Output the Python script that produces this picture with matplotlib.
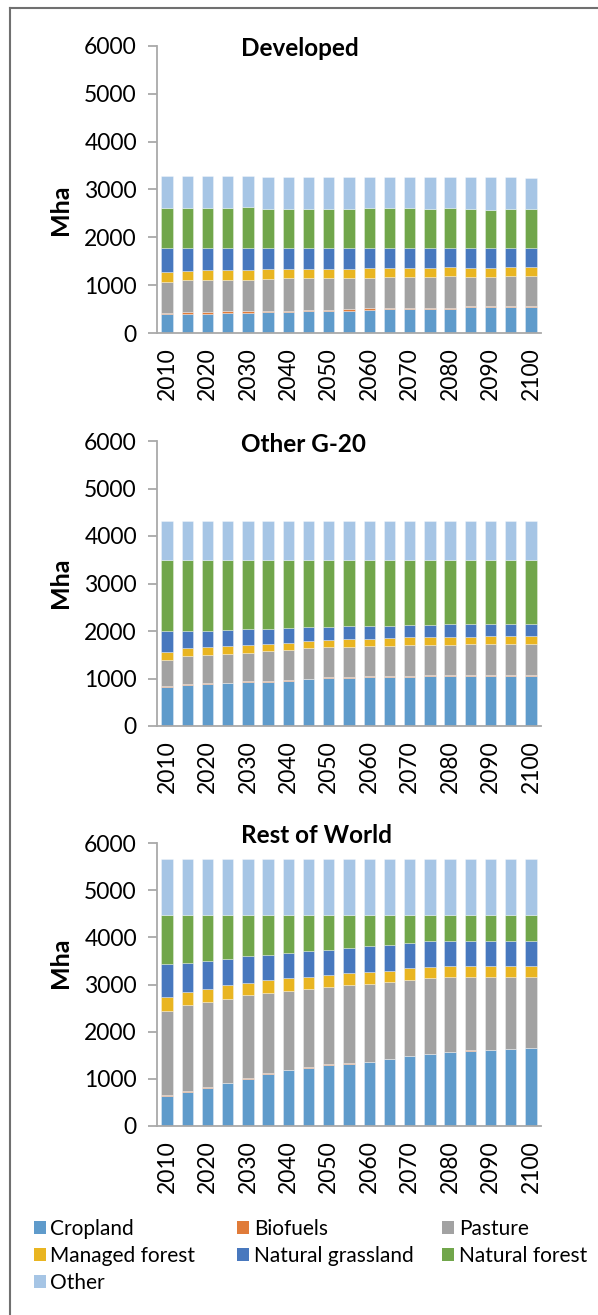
import matplotlib.pyplot as plt
from matplotlib.lines import Line2D
from matplotlib.patches import Patch
import numpy as np

plt.rcParams['font.family'] = ['Lato', 'DejaVu Sans']

# categories
years = [2010, 2015, 2020, 2025, 2030, 2035, 2040, 2045, 2050, 2055,
         2060, 2065, 2070, 2075, 2080, 2085, 2090, 2095, 2100]
series_names = ['Cropland', 'Biofuels', 'Pasture', 'Managed forest',
                'Natural grassland', 'Natural forest', 'Other']
colors = ['#5F9BCB', '#E07B39', '#A2A2A2', '#E9B521', '#4878BE', '#71A64B', '#A6C5E5']

# Developed (Mha)
developed_cropland = [395, 395, 395, 410, 410, 430, 430, 450, 450, 465, 480, 495, 505, 505, 505, 535, 535, 535, 550]
developed_biofuels = [20, 35, 35, 40, 40, 30, 40, 35, 35, 30, 35, 30, 20, 25, 25, 20, 20, 20, 15]
developed_pasture = [655, 680, 685, 665, 665, 670, 680, 665, 665, 655, 645, 650, 655, 650, 665, 625, 625, 645, 635]
developed_managed = [210, 195, 195, 195, 210, 200, 185, 185, 185, 185, 195, 185, 180, 185, 175, 180, 180, 180, 175]
developed_grassland = [505, 480, 470, 470, 460, 450, 445, 440, 440, 440, 430, 425, 425, 415, 415, 415, 415, 405, 405]
developed_natforest = [820, 820, 840, 840, 840, 820, 820, 810, 810, 810, 820, 820, 820, 820, 820, 810, 805, 805, 805]
developed_other = [675, 680, 665, 665, 665, 665, 665, 680, 680, 675, 665, 665, 665, 665, 665, 675, 680, 680, 665]

# Other G-20 (Mha)
g20_cropland = [820, 865, 890, 900, 930, 930, 955, 980, 1015, 1015, 1035, 1035, 1035, 1055, 1055, 1055, 1055, 1055, 1055]
g20_biofuels = [15, 15, 15, 15, 15, 15, 15, 15, 15, 15, 15, 15, 15, 15, 15, 15, 15, 15, 15]
g20_pasture = [545, 600, 595, 605, 595, 625, 635, 640, 625, 630, 625, 640, 645, 640, 640, 650, 650, 650, 660]
g20_managed = [175, 160, 160, 160, 170, 160, 150, 155, 155, 170, 155, 160, 170, 155, 170, 160, 175, 175, 175]
g20_grassland = [435, 350, 345, 335, 325, 315, 305, 290, 280, 270, 280, 260, 260, 260, 260, 260, 245, 245, 245]
g20_natforest = [1510, 1510, 1495, 1480, 1465, 1450, 1445, 1425, 1410, 1400, 1390, 1390, 1375, 1375, 1360, 1360, 1360, 1360, 1345]
g20_other = [815, 815, 815, 815, 815, 815, 815, 815, 815, 815, 815, 815, 815, 815, 815, 815, 815, 815, 815]

# Rest of World (Mha)
row_cropland = [645, 730, 810, 905, 1000, 1110, 1180, 1240, 1300, 1325, 1355, 1410, 1475, 1520, 1560, 1600, 1610, 1630, 1645]
row_biofuels = [10, 10, 10, 10, 10, 10, 10, 10, 10, 10, 10, 10, 10, 10, 10, 10, 10, 10, 10]
row_pasture = [1790, 1815, 1800, 1775, 1760, 1705, 1675, 1660, 1640, 1660, 1650, 1630, 1605, 1600, 1580, 1540, 1530, 1525, 1510]
row_managed = [290, 295, 290, 295, 260, 270, 270, 255, 245, 240, 245, 245, 255, 245, 240, 240, 240, 225, 225]
row_grassland = [705, 605, 595, 560, 565, 535, 535, 535, 535, 545, 550, 550, 535, 545, 535, 535, 535, 535, 530]
row_natforest = [1030, 1010, 970, 925, 875, 840, 800, 770, 735, 695, 660, 620, 585, 550, 545, 545, 545, 545, 550]
row_other = [1190, 1190, 1190, 1190, 1190, 1190, 1190, 1190, 1190, 1190, 1190, 1190, 1190, 1190, 1190, 1190, 1190, 1190, 1190]

panels = [
    ('Developed', [developed_cropland, developed_biofuels, developed_pasture, developed_managed,
                   developed_grassland, developed_natforest, developed_other]),
    ('Other G-20', [g20_cropland, g20_biofuels, g20_pasture, g20_managed,
                    g20_grassland, g20_natforest, g20_other]),
    ('Rest of World', [row_cropland, row_biofuels, row_pasture, row_managed,
                       row_grassland, row_natforest, row_other]),
]

W, H = 598, 1315
fig = plt.figure(figsize=(W / 100, H / 100), dpi=100)

# axes placement in pixels: (top, bottom) of plot area
boxes = [(46, 333), (441, 726), (843, 1126)]
title_baselines = [56, 452, 843]
ylabel_centers = [210, 583, 963]
ax_left, ax_right = 157, 541
spine_color = '#A9A9A9'

x = np.arange(len(years))
for (title, data), (top, bot), tb, yc in zip(panels, boxes, title_baselines, ylabel_centers):
    ax = fig.add_axes([ax_left / W, 1 - bot / H, (ax_right - ax_left) / W, (bot - top) / H])
    bottom = np.zeros(len(years))
    for vals, color in zip(data, colors):
        vals = np.array(vals, dtype=float)
        ax.bar(x, vals, 0.56, bottom=bottom, color=color,
               edgecolor=(1, 1, 1, 0.45), linewidth=0.5)
        bottom += vals
    ax.set_xlim(-0.5, len(years) - 0.5)
    ax.set_ylim(0, 6000)
    ax.set_yticks(range(0, 6001, 1000))
    ax.set_xticks(x[::2])
    ax.set_xticklabels([str(y) for y in years[::2]], rotation=90)
    for s in ['top', 'right']:
        ax.spines[s].set_visible(False)
    for s in ['left', 'bottom']:
        ax.spines[s].set_color(spine_color)
        ax.spines[s].set_linewidth(1.3)
    ax.tick_params(axis='y', length=6.5, width=1.3, color=spine_color, labelsize=16.5, pad=8)
    ax.tick_params(axis='x', length=0, labelsize=16.5, pad=10)

    fig.text(241 / W, 1 - tb / H, title, fontsize=17.5, fontweight='bold',
             ha='left', va='baseline')
    fig.text(61 / W, 1 - yc / H, 'Mha', fontsize=18, fontweight='bold',
             rotation=90, ha='center', va='center')

# legend in three columns
handles = [Patch(facecolor=c, edgecolor='none') for c in colors]
columns = [[0, 3, 6], [1, 4], [2, 5]]
col_x = [33.5, 237, 442]
for idx, cx in zip(columns, col_x):
    fig.legend([handles[i] for i in idx], [series_names[i] for i in idx],
               loc='upper left', bbox_to_anchor=(cx / W, 1 - 1219 / H),
               frameon=False, fontsize=15, borderpad=0, borderaxespad=0,
               handlelength=0.58, handleheight=0.58, handletextpad=0.22,
               labelspacing=0.34)

# outer frame (top and left edges visible)
fx, fy = 9.5 / W, 1 - 7.5 / H
fig.add_artist(Line2D([fx, 1], [fy, fy], transform=fig.transFigure, color='#707070', lw=1.5))
fig.add_artist(Line2D([fx, fx], [0, fy], transform=fig.transFigure, color='#707070', lw=1.5))

fig.savefig('out.png', dpi=100)
